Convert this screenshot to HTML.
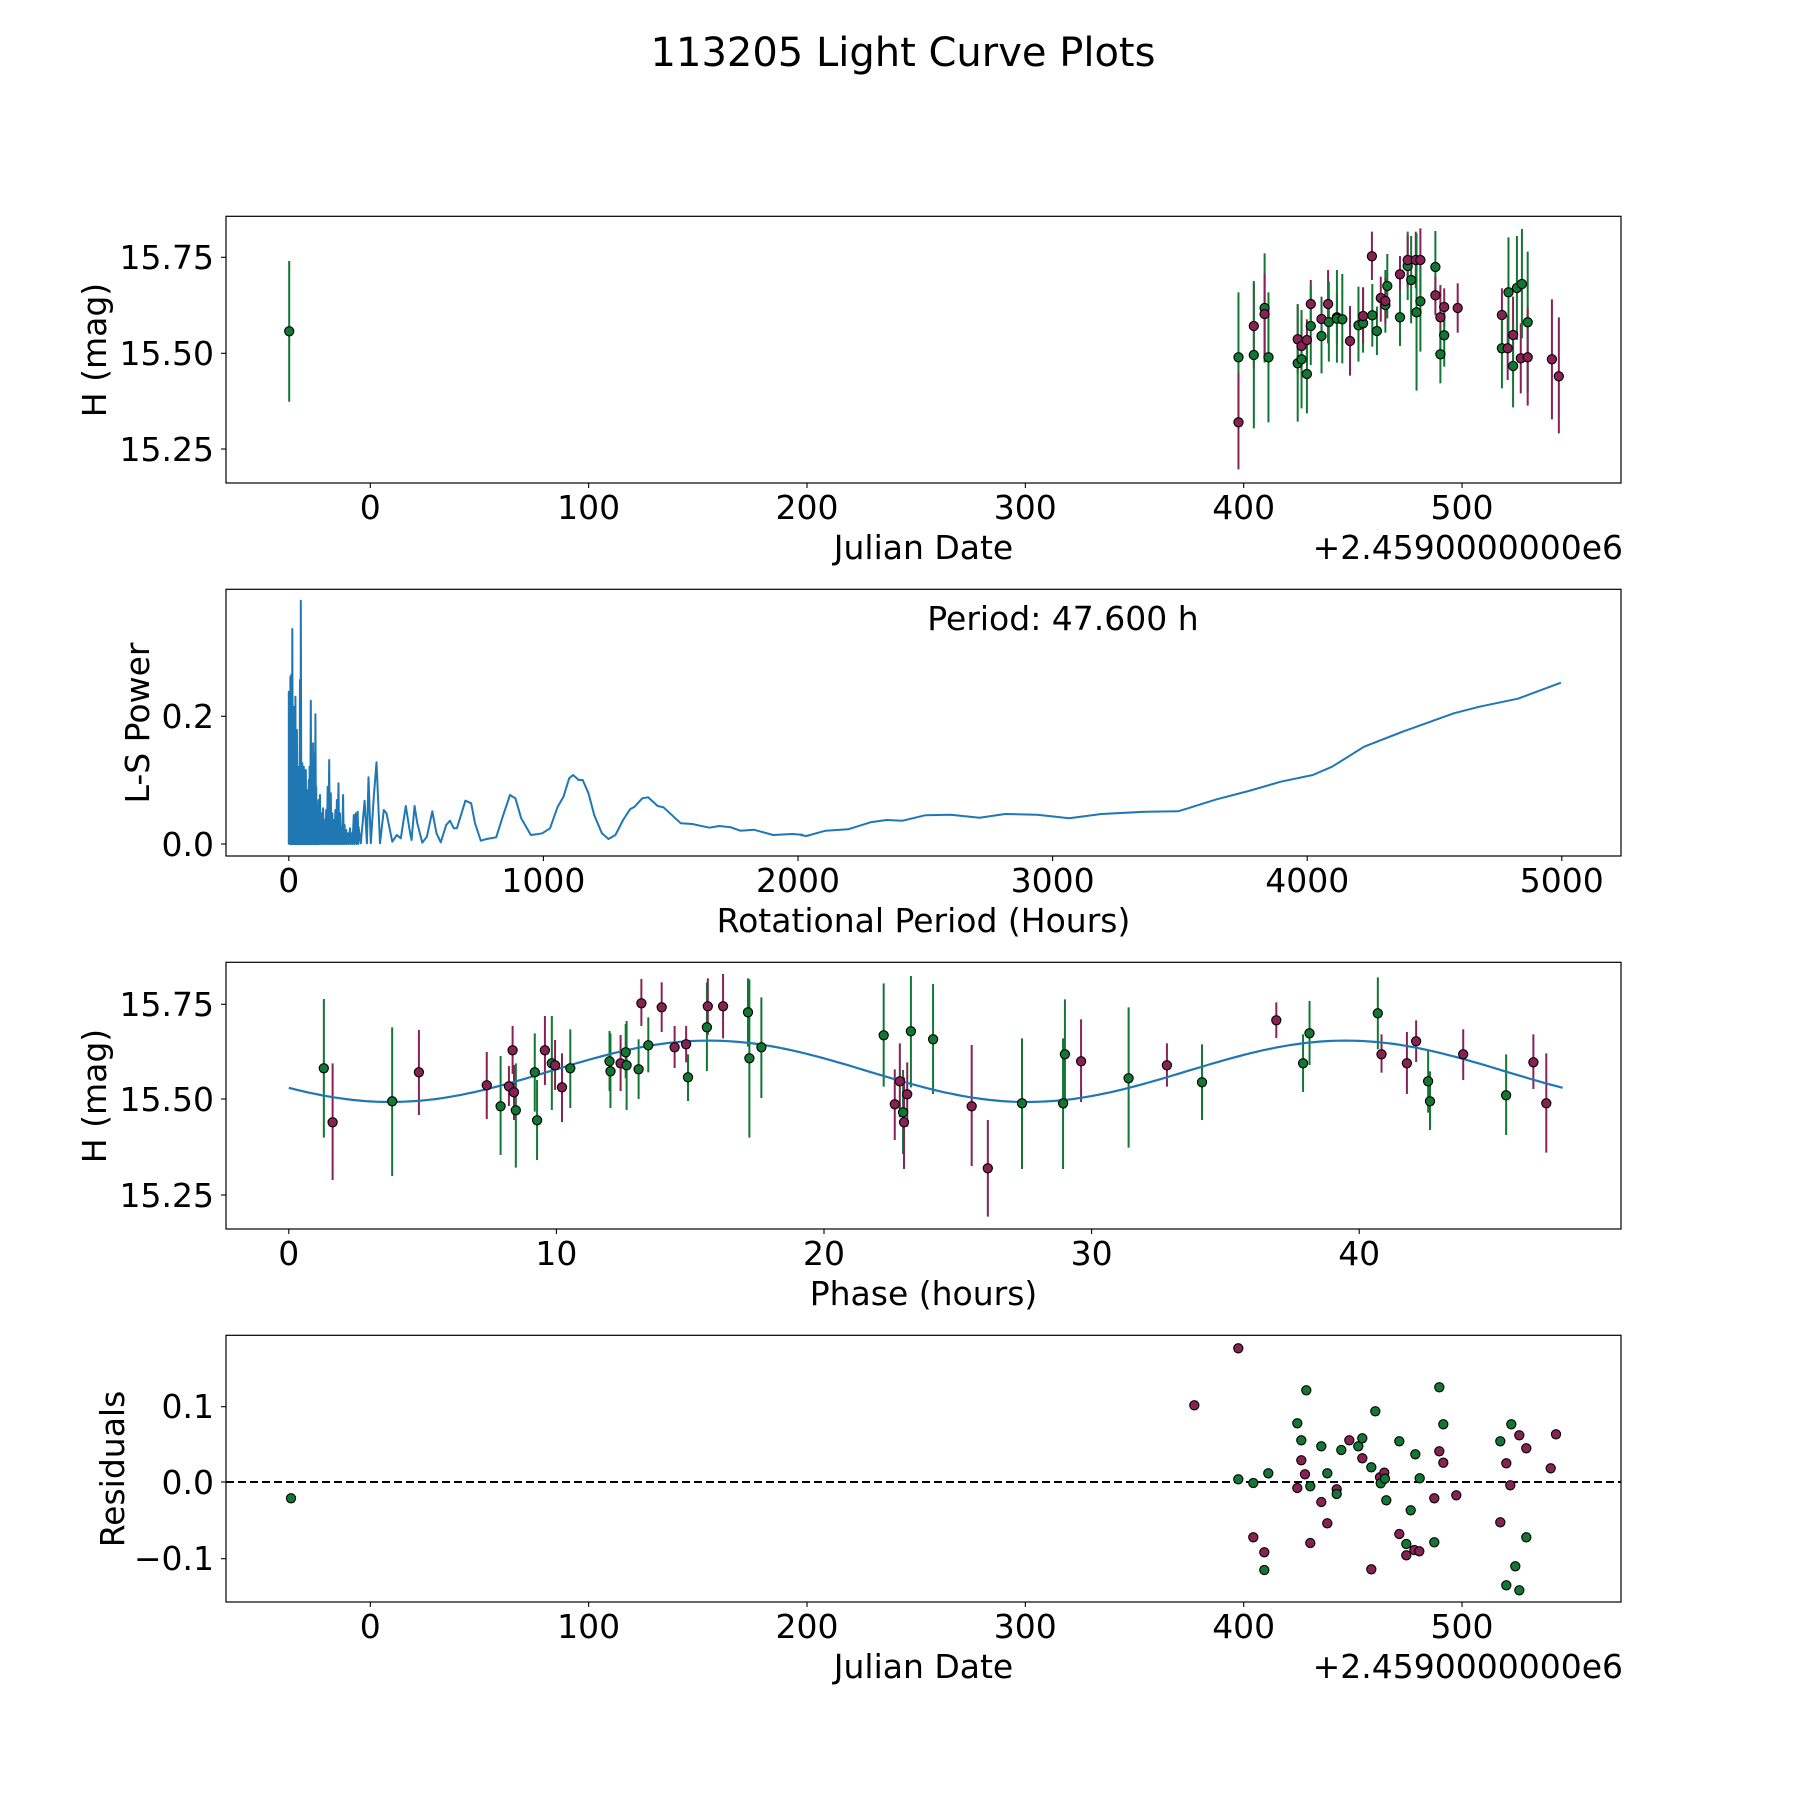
<!DOCTYPE html>
<html><head><meta charset="utf-8">
<style>
html,body{margin:0;padding:0;background:#fff;}
svg{display:block;}
text{font-family:"DejaVu Sans","Liberation Sans",sans-serif;fill:#000;}
</style></head>
<body>
<svg id="s" width="1800" height="1800" viewBox="0 0 1800 1800" xmlns="http://www.w3.org/2000/svg">
<rect width="1800" height="1800" fill="#fff"/>
<text x="903" y="66" font-size="40" text-anchor="middle">113205 Light Curve Plots</text>

<g font-size="33">
<!-- labels panel 1 -->
<text x="370.3" y="519" text-anchor="middle">0</text>
<text x="588.6" y="519" text-anchor="middle">100</text>
<text x="807" y="519" text-anchor="middle">200</text>
<text x="1025.3" y="519" text-anchor="middle">300</text>
<text x="1243.7" y="519" text-anchor="middle">400</text>
<text x="1462" y="519" text-anchor="middle">500</text>
<text x="214" y="269" text-anchor="end">15.75</text>
<text x="214" y="365" text-anchor="end">15.50</text>
<text x="214" y="461" text-anchor="end">15.25</text>
<text x="923.5" y="559" text-anchor="middle">Julian Date</text>
<text x="1623" y="559" text-anchor="end">+2.4590000000e6</text>
<text transform="translate(106,350) rotate(-90)" text-anchor="middle">H (mag)</text>

<!-- labels panel 2 -->
<text x="288.8" y="892" text-anchor="middle">0</text>
<text x="543.4" y="892" text-anchor="middle">1000</text>
<text x="798" y="892" text-anchor="middle">2000</text>
<text x="1052.6" y="892" text-anchor="middle">3000</text>
<text x="1307.2" y="892" text-anchor="middle">4000</text>
<text x="1561.8" y="892" text-anchor="middle">5000</text>
<text x="214" y="728" text-anchor="end">0.2</text>
<text x="214" y="856" text-anchor="end">0.0</text>
<text x="923.5" y="932" text-anchor="middle">Rotational Period (Hours)</text>
<text transform="translate(149,723) rotate(-90)" text-anchor="middle">L-S Power</text>
<text x="1063" y="630" text-anchor="middle">Period: 47.600 h</text>

<!-- labels panel 3 -->
<text x="288.8" y="1265" text-anchor="middle">0</text>
<text x="556.4" y="1265" text-anchor="middle">10</text>
<text x="824" y="1265" text-anchor="middle">20</text>
<text x="1091.6" y="1265" text-anchor="middle">30</text>
<text x="1359.2" y="1265" text-anchor="middle">40</text>
<text x="214" y="1016" text-anchor="end">15.75</text>
<text x="214" y="1111" text-anchor="end">15.50</text>
<text x="214" y="1207" text-anchor="end">15.25</text>
<text x="923.5" y="1305" text-anchor="middle">Phase (hours)</text>
<text transform="translate(106,1096) rotate(-90)" text-anchor="middle">H (mag)</text>

<!-- labels panel 4 -->
<text x="370.3" y="1638" text-anchor="middle">0</text>
<text x="588.6" y="1638" text-anchor="middle">100</text>
<text x="807" y="1638" text-anchor="middle">200</text>
<text x="1025.3" y="1638" text-anchor="middle">300</text>
<text x="1243.7" y="1638" text-anchor="middle">400</text>
<text x="1462" y="1638" text-anchor="middle">500</text>
<text x="214" y="1418" text-anchor="end">0.1</text>
<text x="214" y="1494" text-anchor="end">0.0</text>
<text x="214" y="1570" text-anchor="end">−0.1</text>
<text x="923.5" y="1678" text-anchor="middle">Julian Date</text>
<text x="1623" y="1678" text-anchor="end">+2.4590000000e6</text>
<text transform="translate(124,1469) rotate(-90)" text-anchor="middle">Residuals</text>
</g>

<g id="g"></g>
</svg>
<script>
var NS="http://www.w3.org/2000/svg",G=document.getElementById('g');
function el(t,a){var e=document.createElementNS(NS,t);for(var k in a)e.setAttribute(k,a[k]);G.appendChild(e);return e;}
var GC="#117733",PC="#882255";
var L=226,R=1621,H=266.7,tops=[216.3,589.3,962.3,1335.3];
function xt(top,arr){arr.forEach(function(x){el('line',{x1:x,x2:x,y1:top+H,y2:top+H+5,stroke:'#000','stroke-width':1.1});});}
function yt(arr){arr.forEach(function(y){el('line',{x1:L-5,x2:L,y1:y,y2:y,stroke:'#000','stroke-width':1.1});});}
var dt=[0,100,200,300,400,500].map(function(d){return 370.3+2.1835*d;});
xt(tops[0],dt);xt(tops[3],dt);
xt(tops[1],[0,1000,2000,3000,4000,5000].map(function(v){return 288.8+0.2546*v;}));
xt(tops[2],[0,10,20,30,40].map(function(v){return 288.8+26.76*v;}));
yt([257.3,353.3,449,716.3,844,1004.3,1099,1195,1406.7,1482,1558.7]);

function pt(x,y,c,e1,e2){
  if(e1!==undefined) el('line',{x1:x,x2:x,y1:e1,y2:e2,stroke:c,'stroke-width':2});
  return [x,y,c];
}
var dots=[];
var p1=[[100,622,'g',427,817],[100,817,'p',670,958],[140,528,'p',400,655],[140,615,'g',393,835],[168,474,'g',310,638],[168,492,'p',370,620],[178,622,'g',427,817],[254,568,'p',465,670],[254,640,'g',462,815],[264,588,'p',500,680],[264,628,'g',480,775],[278,570,'p',508,640],[278,672,'g',555,790],[288,462,'p',390,535],[288,528,'g',405,645],[316,507,'p',440,575],[316,558,'g',445,670],[333,462,'p',360,580],[335,516,'g',395,635],[356,502,'p',430,580],[356,506,'g',360,638],[370,508,'g',372,640],[390,573,'p',468,677],[412,526,'g',410,635],[424,520,'g',412,608],[424,498,'p',412,580],[447,319,'p',245,390],[448,496,'g',402,590],[460,543,'g',470,615],[470,444,'p',380,515],[482,465,'g',360,548],[482,453,'p',385,520],[487,408,'g',312,505],[520,373,'p',318,425],[520,502,'g',422,588],[540,348,'g',245,450],[540,330,'p',255,410],[549,390,'g',258,520],[561,330,'p',245,415],[563,487,'g',250,722],[573,330,'p',235,430],[573,454,'g',350,605],[612,351,'g',243,460],[612,436,'p',380,495],[625,502,'p',405,600],[625,613,'g',530,700],[635,471,'p',415,530],[635,556,'g',460,650],[670,474,'p',400,548],[785,495,'p',415,580],[785,595,'g',480,715],[800,595,'p',495,690],[802,427,'g',262,595],[814,555,'p',440,670],[814,648,'g',525,772],[824,414,'g',258,570],[834,625,'p',520,730],[837,402,'g',237,565],[852,517,'g',305,727],[852,622,'p',472,767],[915,628,'p',448,808],[933,679,'p',502,850]];
dots.push(pt(289.2,331.3,GC,261,401.7));
p1.forEach(function(a){dots.push(pt(1200+a[0]/2.6,150+a[1]/3,a[2]=='g'?GC:PC,150+a[3]/3,150+a[4]/3));});
var p3a=[[225,355,'g',147,563],[244,517,'p',340,690],[373,454,'g',232,678],[431,367,'p',240,495],[578,406,'p',306,507],[608,469,'g',318,615],[626,409,'p',348,468],[634,301,'p',228,372],[637,427,'p',345,510],[641,481,'g',340,653],[682,367,'g',250,485],[687,511,'g',390,630],[704,301,'p',198,405],[719,340,'g',198,480],[726,346,'p',270,420],[741,412,'p',310,516],[759,355,'g',238,474],[844,334,'g',243,423],[846,364,'g',250,474],[868,340,'p',255,423],[879,307,'g',222,385],[881,346,'g',213,480],[907,358,'g',268,447],[913,160,'p',87,228],[928,286,'g',202,367],[957,172,'p',97,246],[985,292,'p',228,354],[1010,283,'p',228,337],[1014,382,'g',313,453],[1055,232,'g',97,363],[1057,169,'p',85,255],[1090,169,'p',72,265],[1144,187,'g',85,290],[1147,325,'g',88,563],[1173,292,'g',142,444],[1438,256,'g',100,410],[1462,463,'p',358,570],[1473,394,'p',280,502],[1480,487,'g',360,612],[1482,517,'p',382,657],[1489,433,'p',337,530],[1497,244,'g',78,412],[1545,268,'g',102,432]];
var p3b=[[112,469,'p',285,648],[147,655,'p',510,800],[221,460,'g',265,657],[310,460,'g',265,657],[314,313,'g',148,475],[349,334,'p',208,456],[452,385,'g',172,593],[535,346,'p',280,410],[611,397,'g',283,510],[772,211,'p',157,264],[830,340,'g',253,426],[844,250,'g',153,345],[992,190,'g',82,298],[1000,313,'p',253,368],[1055,340,'p',246,432],[1075,274,'p',211,336],[1101,394,'g',300,488],[1105,454,'g',364,540],[1177,313,'p',238,390],[1270,436,'g',313,555],[1329,337,'p',253,417],[1357,460,'p',310,608]];
p3a.forEach(function(a){dots.push(pt(220+a[0]/2.1667,950+a[1]/3,a[2]=='g'?GC:PC,950+a[3]/3,950+a[4]/3));});
p3b.forEach(function(a){dots.push(pt(920+a[0]/2.1667,950+a[1]/3,a[2]=='g'?GC:PC,950+a[3]/3,950+a[4]/3));});
var d='';for(var i=0;i<=200;i++){var p=47.6*i/200;var x=288.8+26.76*p;var y=1071.3+30.7*Math.cos(2*Math.PI*(p-3.8)/23.8);d+=(i?'L':'M')+x.toFixed(1)+','+y.toFixed(1);}
el('path',{d:d,fill:'none',stroke:'#1f77b4','stroke-width':2.2});
el('line',{x1:L,x2:R,y1:1482,y2:1482,stroke:'#000','stroke-width':2,'stroke-dasharray':'8,4'});
var p4=[[265,85,'p'],[133,256,'p'],[469,211,'g'],[442,310,'g'],[454,361,'g'],[454,421,'p'],[465,463,'p'],[442,504,'p'],[481,499,'g'],[481,669,'p'],[265,478,'g'],[310,489,'g'],[310,652,'p'],[343,697,'p'],[343,750,'g'],[355,460,'g'],[514,379,'g'],[514,546,'p'],[532,460,'g'],[532,610,'p'],[560,508,'p'],[560,522,'g'],[574,390,'g'],[598,361,'p'],[625,379,'g'],[637,355,'g'],[637,415,'p'],[664,442,'g'],[664,748,'p'],[676,274,'g'],[690,472,'p'],[692,490,'g'],[703,458,'p'],[705,476,'g'],[709,541,'g'],[748,364,'g'],[748,642,'p'],[769,672,'g'],[769,706,'p'],[782,571,'g'],[793,690,'p'],[796,403,'g'],[808,694,'p'],[809,475,'g'],[853,535,'p'],[853,667,'g'],[868,202,'g'],[868,394,'p'],[880,313,'g'],[880,428,'p'],[919,526,'p'],[1051,364,'g'],[1051,607,'p'],[1069,430,'p'],[1069,796,'g'],[1081,496,'p'],[1084,313,'g'],[1096,739,'g'],[1108,346,'p'],[1108,811,'g'],[1129,385,'p'],[1129,652,'g'],[1202,445,'p'],[1218,343,'p']];
dots.push([291,1498.3,GC]);
p4.forEach(function(a){dots.push([1150+a[0]/3,1320+a[1]/3,a[2]=='g'?GC:PC]);});
var pk=[[231,335],[233,400],[235,290],[237,285],[240,147],[242,500],[244,380],[246,600],[248,350],[250,520],[252,450],[255,640],[257,560],[260,300],[262,62],[264,560],[266,550],[268,600],[270,560],[273,640],[275,570],[278,630],[280,680],[283,600],[285,560],[288,362],[290,560],[292,620],[294,490],[296,520],[298,600],[300,403],[302,620],[305,700],[308,660],[312,645],[316,700],[320,685],[324,720],[328,690],[332,620],[336,540],[340,640],[344,700],[348,720],[352,690],[356,660],[360,610],[364,700],[368,740],[372,645],[376,735],[380,750],[385,760],[390,745],[395,760],[400,705],[405,700],[410,695]];
var pd='M'+(200+231/2.6).toFixed(1)+','+(580+792/3).toFixed(1);
pk.forEach(function(a,i){var x=200+a[0]/2.6;pd+='L'+x.toFixed(1)+','+(580+a[1]/3).toFixed(1)+'L'+(x+0.6).toFixed(1)+','+(580+792/3).toFixed(1);});
var sm=[[412,740],[418,790],[428,662],[434,790],[438,592],[444,790],[452,650],[459,547],[468,790],[478,690],[485,700],[500,785],[512,765],[522,775],[535,678],[545,750],[550,780],[558,678],[565,730],[578,788],[590,770],[604,694],[615,760],[626,787],[640,735],[650,722],[660,745],[668,745],[680,700],[690,662],[705,670],[715,730],[730,782],[745,777],[770,772],[790,700],[806,645],[820,655],[835,715],[860,765],[875,763],[890,760],[910,745],[930,680],[945,650],[960,595],[970,585],[985,600],[995,600],[1010,640],[1025,705],[1045,760],[1062,777],[1080,765],[1100,720],[1118,688],[1130,680],[1150,655],[1165,652],[1190,678],[1205,682],[1250,730],[1280,732],[1300,737],[1325,743],[1350,738],[1380,742],[1405,752],[1440,749],[1490,765],[1540,762],[1566,764]];
sm.forEach(function(a){pd+='L'+(200+a[0]/2.6).toFixed(1)+','+(580+a[1]/3).toFixed(1);});
var sm2=[[0,765],[10,768],[40,752],[75,748],[110,727],[135,720],[160,722],[195,706],[235,704],[280,713],[320,702],[370,704],[420,715],[470,702],[540,695],[590,694],[650,658],[700,633],[750,605],[800,585],[830,560],[880,500],[940,455],[1020,400],[1060,380],[1120,356],[1187,308]];
sm2.forEach(function(a){pd+='L'+(800+a[0]/1.56).toFixed(1)+','+(580+a[1]/3).toFixed(1);});
el('path',{d:pd,fill:'none',stroke:'#1f77b4','stroke-width':2,'stroke-linejoin':'round'});
dots.forEach(function(a){el('circle',{cx:a[0].toFixed(1),cy:a[1].toFixed(1),r:4.6,fill:a[2],stroke:'#000','stroke-width':1.1});});
tops.forEach(function(t){el('rect',{x:L,y:t,width:R-L,height:H,fill:'none',stroke:'#000','stroke-width':1.2});});
</script>
</body></html>
